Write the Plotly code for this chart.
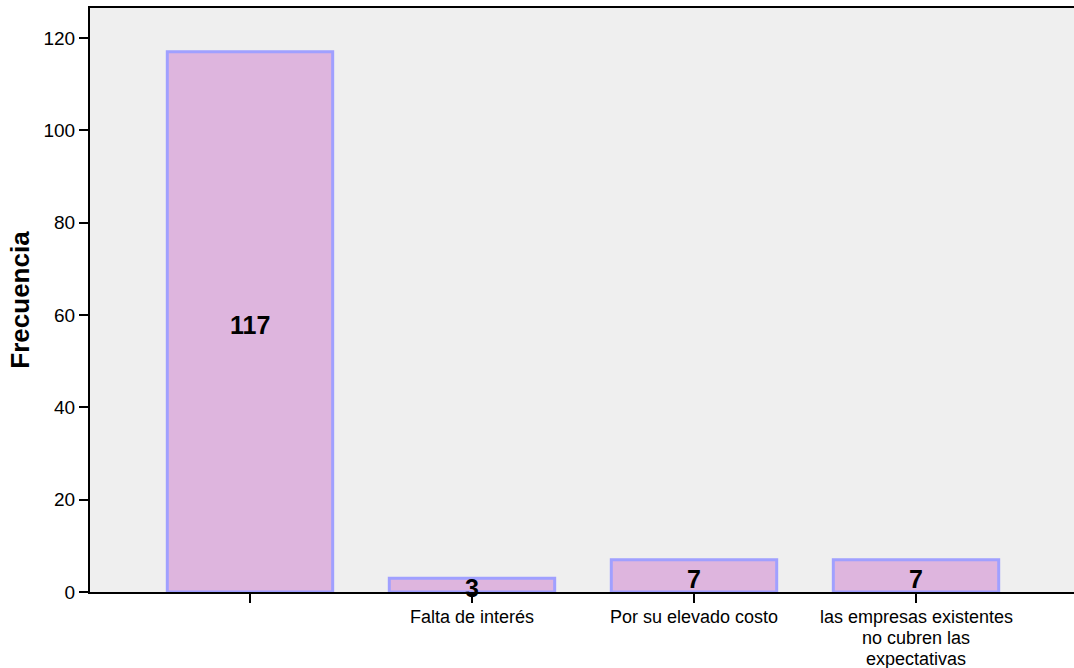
import plotly.graph_objects as go

# Categorías y frecuencias
categorias = ["", "Falta de interés", "Por su elevado costo",
              "las empresas existentes<br>no cubren las<br>expectativas"]
frecuencias = [117, 3, 7, 7]
ticks_y = [0, 20, 40, 60, 80, 100, 120]

x_pos = list(range(len(categorias)))
FUENTE = "Liberation Sans, Arial"

fig = go.Figure()
fig.add_trace(go.Bar(
    x=x_pos, y=frecuencias, width=0.745,
    marker=dict(color="#DEB5DE", line=dict(color="#A0A0FF", width=3)),
    hoverinfo="skip", showlegend=False,
))

# Etiquetas de valor centradas en cada barra
for x, v in zip(x_pos, frecuencias):
    fig.add_annotation(
        x=x, y=v / 2, xref="x", yref="y", text=f"<b>{v}</b>",
        showarrow=False, yshift=-3,
        font=dict(family=FUENTE, size=25, color="black"),
    )

# Etiquetas de categoría bajo el eje, línea a línea
for x, cat in zip(x_pos, categorias):
    for i, linea in enumerate(cat.split("<br>")):
        if not linea:
            continue
        fig.add_annotation(
            x=x, y=0, xref="x", yref="paper", text=linea,
            showarrow=False, yanchor="middle", height=20,
            yshift=-25 - 21 * i,
            font=dict(family=FUENTE, size=18, color="black"),
        )

fig.update_layout(
    width=1074, height=668,
    margin=dict(l=90, r=0, t=8, b=76),
    paper_bgcolor="white", plot_bgcolor="#EFEFEF",
    font=dict(family=FUENTE, size=19, color="black"),
    xaxis=dict(
        tickmode="array", tickvals=x_pos, showticklabels=False,
        range=[-0.7207, 3.7117], showgrid=False, zeroline=False,
        showline=True, linecolor="black", linewidth=2, mirror=True,
        ticks="outside", ticklen=9, tickwidth=2, tickcolor="black",
    ),
    yaxis=dict(
        range=[0, 126.5], tickvals=ticks_y, showgrid=False, zeroline=False,
        showline=True, linecolor="black", linewidth=2,
        ticks="outside", ticklen=9, tickwidth=2, tickcolor="black",
        tickfont=dict(size=19),
        title=dict(text="<b>Frecuencia</b>", font=dict(size=26), standoff=6),
    ),
)

fig.write_html("out.html")
